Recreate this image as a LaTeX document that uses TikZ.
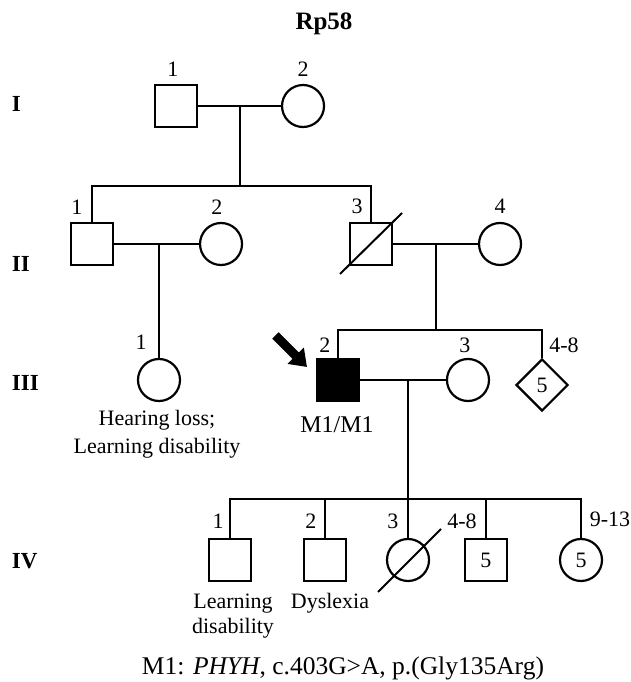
\documentclass[tikz,border=0pt]{standalone}
\usepackage{fontspec}
\setmainfont{Liberation Serif}
\usepackage{tikz}
\usetikzlibrary{arrows.meta,positioning,shapes.geometric}
\tikzset{
  every picture/.style={font=\fontsize{11}{13}\selectfont, line width=1pt},
  person/.style={draw=black, line width=1.1pt, inner sep=0pt, minimum size=21pt},
  male/.style={person, rectangle},
  female/.style={person, circle},
  unknown/.style={person, diamond, minimum size=26pt},
  affected/.style={fill=black},
  num/.style={anchor=base, inner sep=0pt},
  note/.style={align=center, anchor=base, inner sep=0pt},
  gen/.style={anchor=base west, inner sep=0pt, font=\fontsize{11.5}{13}\selectfont\bfseries},
  link/.style={draw=black, line width=1pt},
  proband/.style={-{Triangle[length=8pt, width=11pt]}, line width=4.5pt},
}

\begin{document}
\begin{tikzpicture}
  \useasboundingbox (0,0) rectangle (11.088,11.985);
  \node[anchor=base, inner sep=0pt, font=\fontsize{12.5}{14}\selectfont\bfseries] (title) at (5.694,11.475) {Rp58};
  % generations
  \node[gen] (g1) at (0.193,10.017) {I};
  \node[gen] (g2) at (0.193,7.205) {II};
  \node[gen] (g3) at (0.193,5.131) {III};
  \node[gen] (g4) at (0.193,1.986) {IV};
  % I
  \node[male] (i1) at (3.093,10.122) {};
  \node[female] (i2) at (5.325,10.122) {};
  \node[num] (l-i1) at (3.040,10.632) {1};
  \node[num] (l-i2) at (5.325,10.632) {2};
  % II
  \node[male] (ii1) at (1.617,7.697) {};
  \node[female] (ii2) at (3.884,7.697) {};
  \node[male] (ii3) at (6.520,7.697) {};
  \node[female] (ii4) at (8.787,7.697) {};
  \node[num] (l-ii1) at (1.353,8.215) {1};
  \node[num] (l-ii2) at (3.813,8.215) {2};
  \node[num] (l-ii3) at (6.274,8.230) {3};
  \node[num] (l-ii4) at (8.787,8.240) {4};
  % III
  \node[female] (iii1) at (2.794,5.307) {};
  \node[male, affected] (iii2) at (5.940,5.307) {};
  \node[female] (iii3) at (8.224,5.307) {};
  \node[unknown] (iii4) at (9.525,5.219) {5};
  \node[num] (l-iii1) at (2.478,5.840) {1};
  \node[num] (l-iii2) at (5.711,5.799) {2};
  \node[num] (l-iii3) at (8.171,5.799) {3};
  \node[num] (l-iii4) at (9.911,5.799) {4-8};
  % IV
  \node[male] (iv1) at (4.042,2.144) {};
  \node[male] (iv2) at (5.711,2.144) {};
  \node[female] (iv3) at (7.170,2.144) {};
  \node[male] (iv4) at (8.540,2.144) {5};
  \node[female] (iv5) at (10.210,2.144) {5};
  \node[num] (l-iv1) at (3.831,2.706) {1};
  \node[num] (l-iv2) at (5.465,2.706) {2};
  \node[num] (l-iv3) at (6.906,2.706) {3};
  \node[num] (l-iv4) at (8.119,2.706) {4-8};
  \node[num] (l-iv5) at (10.720,2.741) {9-13};
  % couples and sibships
  \coordinate (c1) at (4.218,10.122);
  \coordinate (s1) at (4.218,8.716);
  \coordinate (c2) at (2.794,7.697);
  \coordinate (c3) at (7.662,7.697);
  \coordinate (s3) at (7.662,6.186);
  \coordinate (c4) at (7.170,5.307);
  \coordinate (s4) at (7.170,3.216);
  \draw[link] (i1) -- (i2);
  \draw[link] (c1) -- (s1);
  \draw[link] (ii1.north) |- (s1) -| (ii3.north);
  \draw[link] (ii1) -- (ii2);
  \draw[link] (c2) -- (iii1);
  \draw[link] (ii3) -- (ii4);
  \draw[link] (c3) -- (s3);
  \draw[link] (iii2.north) |- (s3) -| (iii4.north);
  \draw[link] (iii2) -- (iii3);
  \draw[link] (c4) -- (iv3);
  \draw[link] (iv1.north) |- (s4) -| (iv5.north);
  \draw[link] (iv2.north) -- (iv2.north |- s4);
  \draw[link] (iv4.north) -- (iv4.north |- s4);
  % deceased
  \draw[link] (ii3) ++(-0.545,-0.527) -- ++(1.09,1.072);
  \draw[link] (iv3) ++(-0.527,-0.562) -- ++(1.107,1.107);
  % proband
  \coordinate (pb) at (4.841,6.089);
  \draw[proband] (pb) -- ++(0.554,-0.554);
  % notes
  \node[note, font=\fontsize{11}{14}\selectfont] (n-iii1) at (2.759,4.024) {Hearing loss;\\Learning disability};
  \node[note, font=\fontsize{12}{14}\selectfont] (n-iii2) at (5.922,4.393) {M1/M1};
  \node[note, font=\fontsize{11}{12.5}\selectfont] (n-iv1) at (4.095,0.844) {Learning\\disability};
  \node[note] (n-iv2) at (5.799,1.283) {Dyslexia};
  \node[note, font=\fontsize{12.75}{14}\selectfont] (foot) at (6.028,0.123) {M1: \textit{PHYH}, c.403G>A, p.(Gly135Arg)};
\end{tikzpicture}
\end{document}
